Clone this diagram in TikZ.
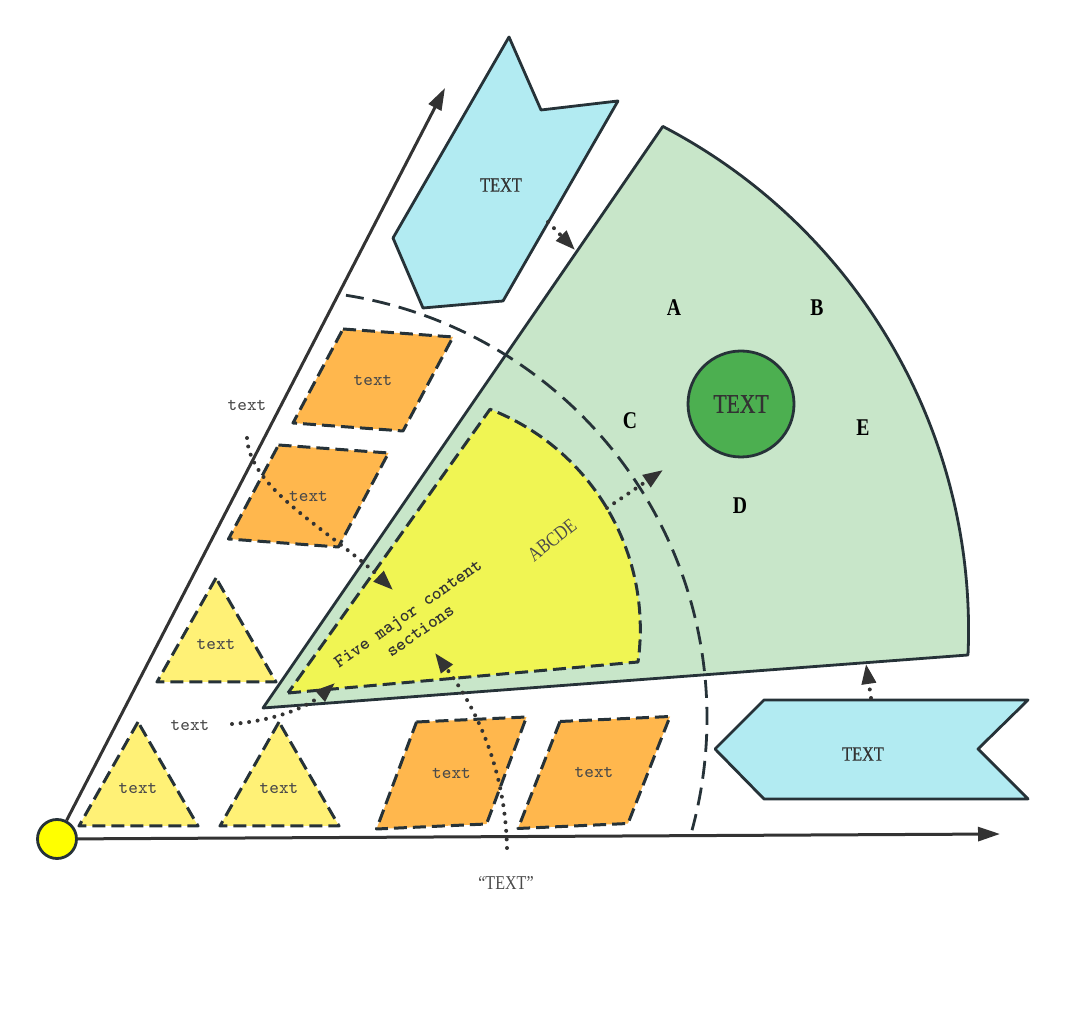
\documentclass[tikz,border=0pt]{standalone}
\usepackage{fontspec}
\usetikzlibrary{arrows.meta}
\newfontfamily\capfont[FakeStretch=0.82]{Liberation Serif}
\newfontfamily\headfont[FakeStretch=0.8, FakeBold=0.6]{Liberation Serif}
\definecolor{Edge}{HTML}{263238}
\definecolor{Ink}{HTML}{333333}
\definecolor{Faint}{HTML}{4A4A4A}
\definecolor{Mint}{HTML}{C8E6C9}
\definecolor{Lemon}{HTML}{F0F553}
\definecolor{Sand}{HTML}{FFB74D}
\definecolor{Butter}{HTML}{FFF176}
\definecolor{Sky}{HTML}{B2EBF2}
\definecolor{Leaf}{HTML}{4CAF50}
\definecolor{Sun}{HTML}{FFFF00}

\begin{document}
\begin{tikzpicture}[x=0.5pt, y=0.5pt,
    rim/.style={draw=Edge, line width=1.4pt, line join=round},
    dashrim/.style={draw=Edge, line width=1.5pt, line join=round, dash pattern=on 6.5pt off 3pt},
    axis/.style={draw=Ink, line width=1.5pt, -{Triangle[length=11pt, width=7pt]}},
    dotarrow/.style={draw=Ink, line width=2pt, line cap=round, dash pattern=on 0pt off 4.3pt, -{Triangle[length=10pt, width=7pt]}},
    note/.style={font=\ttfamily\fontsize{9.2}{10}\selectfont, text=Faint},
    caption/.style={font=\headfont\fontsize{10.2}{12}\selectfont, text=Ink},
    letter/.style={font=\capfont\bfseries\fontsize{12}{14}\selectfont}]
    \useasboundingbox (0,0) rectangle (1090,1010);

    \node[circle, draw=Edge, line width=1.4pt, fill=Sun, minimum size=19.5pt, inner sep=0pt] (o) at (57,171) {};
    \coordinate (xend) at (1000,176);
    \coordinate (yend) at (445,922);
    \draw[axis] (o) -- (xend);
    \draw[axis] (o) -- (yend);

    \draw[rim, fill=Mint] (263,302) -- (968,355) arc[start angle=-2.5, end angle=62.5, radius=568] -- cycle;
    \draw[dashrim, fill=Lemon] (288,317) -- (638,348) arc[start angle=-8, end angle=68.7, radius=236] -- cycle;
    \draw[Edge, line width=1.4pt, dash pattern=on 9pt off 4.5pt] (279,292) ++(81:428) arc[start angle=81, end angle=-15.2, radius=428];

    \draw[rim, fill=Sky] (509,973) -- (541,900) -- (618,909) -- (503,709) -- (423,702) -- (393,772) -- cycle;
    \node[caption] (flagT) at (501,825) {TEXT};
    \draw[rim, fill=Sky] (715,261) -- (764,310) -- (1028,310) -- (978,261) -- (1028,211) -- (764,211) -- cycle;
    \node[caption] (flagB) at (863,256) {TEXT};

    \node[circle, draw=Edge, line width=1.4pt, fill=Leaf, minimum size=53pt, inner sep=0pt,
        font=\headfont\fontsize{13.5}{15}\selectfont, text=Ink] (core) at (741,606) {TEXT};
    \foreach \n/\x/\y in {A/674/702, B/817/702, C/630/589, D/740/504, E/863/582}
        \node[letter] (sec\n) at (\x,\y) {\n};

    \foreach \x/\y [count=\i] in {216/432, 138/288, 279/288} {
        \draw[dashrim, fill=Butter] (\x,\y) -- ++(-59,-104) -- ++(119,0) -- cycle;
        \node[note] (tri\i) at (\x,\y-66) {text};
    }
    \foreach \x/\y/\s/\t [count=\i] in {373/630/30/-8, 308.5/514/30/-8, 451.5/237/35/5, 594/237.5/34/5} {
        \draw[dashrim, fill=Sand] (\x-\s,\y+51) -- (\x-\s+110,\y+51+\t) -- (\x+\s,\y-51) -- (\x+\s-110,\y-51-\t) -- cycle;
        \node[note] (par\i) at (\x,\y) {text};
    }

    \node[rotate=35, align=center, font=\ttfamily\bfseries\fontsize{9.3}{10.5}\selectfont, text=Ink] (five) at (414,388) {Five major content\\sections};
    \node[rotate=38, font=\capfont\fontsize{10}{12}\selectfont, text=Faint] (abc) at (552,470) {ABCDE};

    \node[note] (noteA) at (247,605) {text};
    \node[note] (noteB) at (190,285) {text};
    \node[font=\capfont\fontsize{9.8}{11}\selectfont, text=Faint] (quote) at (506,127) {“TEXT”};

    \coordinate (a1) at (247,572);
    \coordinate (a2) at (393,420);
    \draw[dotarrow] (a1) .. controls (250,520) and (330,480) .. (a2);
    \coordinate (b1) at (232,286);
    \coordinate (b2) at (335,327);
    \draw[dotarrow] (b1) .. controls (280,290) and (310,305) .. (b2);
    \coordinate (c1) at (507,162);
    \coordinate (c2) at (435,357);
    \draw[dotarrow] (c1) .. controls (505,250) and (470,310) .. (c2);
    \coordinate (d1) at (607,502);
    \coordinate (d2) at (663,540);
    \draw[dotarrow] (d1) -- (d2);
    \coordinate (e1) at (548,788);
    \coordinate (e2) at (575,760);
    \draw[dotarrow] (e1) -- (e2);
    \coordinate (f1) at (871,312);
    \coordinate (f2) at (866,346);
    \draw[dotarrow] (f1) -- (f2);
\end{tikzpicture}
\end{document}
